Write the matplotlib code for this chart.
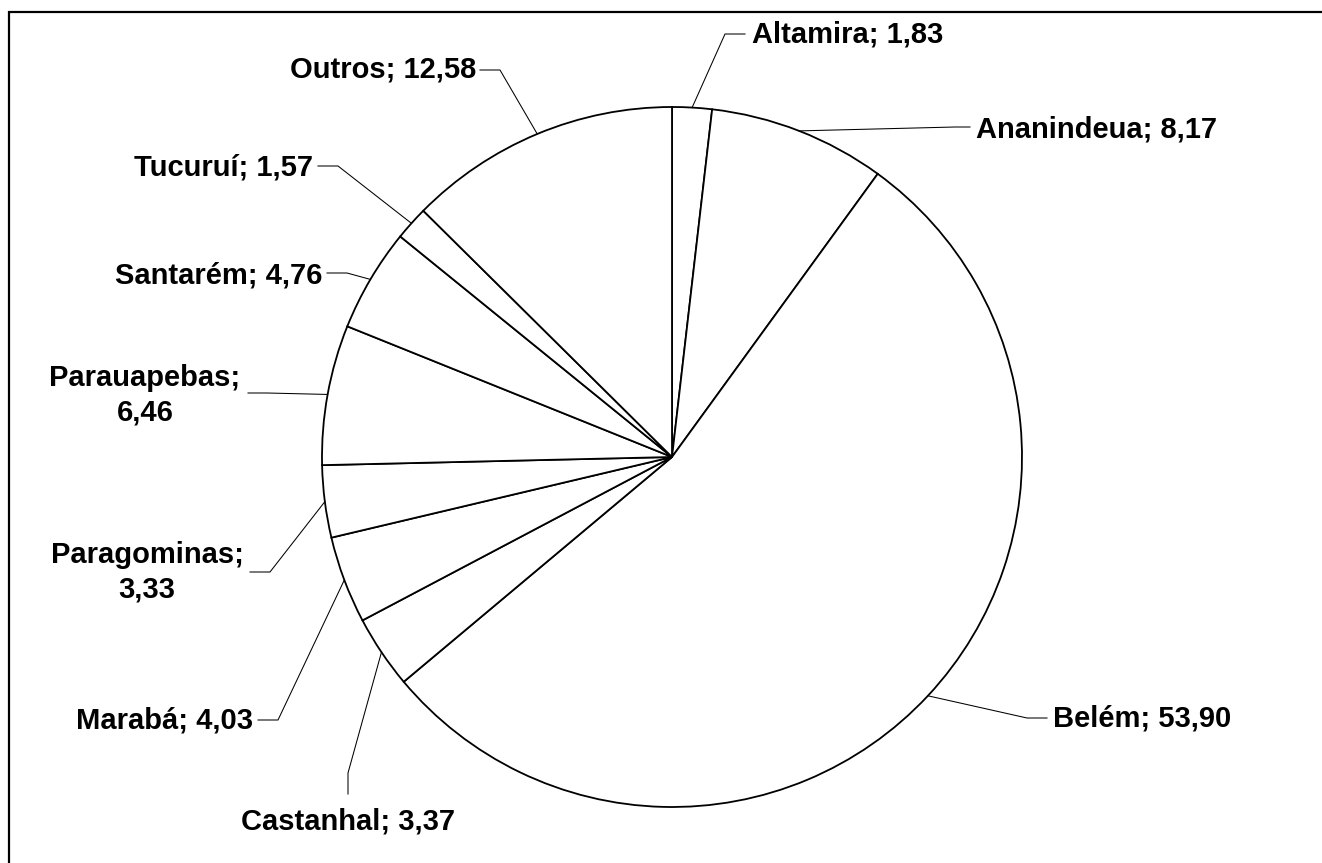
"""
Pie chart of share by municipality (Pará), white wedges with outside labels
and leader lines. Saves out.png.
"""

import matplotlib.pyplot as plt
import numpy as np
from matplotlib.patches import Rectangle

W, H = 1322, 863

municipios = ["Altamira", "Ananindeua", "Belém", "Castanhal", "Marabá",
              "Paragominas", "Parauapebas", "Santarém", "Tucuruí", "Outros"]
valores = [1.83, 8.17, 53.90, 3.37, 4.03, 3.33, 6.46, 4.76, 1.57, 12.58]
# labels that wrap onto two lines
quebra = {"Paragominas", "Parauapebas"}

# layout of the labels, in image pixels (x right, y down):
# elbow of the leader line, end of the leader line, text anchor, alignment
LAYOUT = {
    "Altamira":    ((725, 34), (745, 34), (752, 35), "left"),
    "Ananindeua":  ((955, 127), (970, 127), (976, 130), "left"),
    "Belém":       ((1027, 718), (1047, 718), (1053, 718), "left"),
    "Castanhal":   ((348, 773), (348, 794), (348, 821), "center"),
    "Marabá":      ((278, 720), (258, 720), (253, 720), "right"),
    "Paragominas": ((270, 572), (250, 572), (147, 572), "center"),
    "Parauapebas": ((267, 393), (248, 393), (145, 395), "center"),
    "Santarém":    ((347, 273), (327, 273), (322, 275), "right"),
    "Tucuruí":     ((338, 166), (318, 166), (313, 167), "right"),
    "Outros":      ((500, 70), (480, 70), (476, 70), "right"),
}

CENTER = (672, 457)
RADIUS = 350


def up(p):
    # image pixel coords -> data coords (y up)
    return p[0], H - p[1]


def rotulo(nome, valor):
    sep = ";\n" if nome in quebra else "; "
    return f"{nome}{sep}{valor:.2f}".replace(".", ",")


def main():
    plt.rcParams["font.family"] = ["Liberation Sans", "DejaVu Sans"]

    fig = plt.figure(figsize=(W / 100, H / 100), dpi=100)
    ax = fig.add_axes([0, 0, 1, 1])
    ax.set_xlim(0, W)
    ax.set_ylim(0, H)
    ax.set_aspect("equal")
    ax.axis("off")

    wedges, _ = ax.pie(
        valores, startangle=90, counterclock=False,
        center=up(CENTER), radius=RADIUS, frame=True,
        wedgeprops=dict(facecolor="white", edgecolor="black", linewidth=1.3),
    )
    ax.set_xlim(0, W)
    ax.set_ylim(0, H)
    ax.axis("off")

    for w, nome, valor in zip(wedges, municipios, valores):
        ang = np.deg2rad((w.theta1 + w.theta2) / 2)
        cx, cy = w.center
        x0, y0 = cx + w.r * np.cos(ang), cy + w.r * np.sin(ang)
        elbow, end, txt, ha = LAYOUT[nome]
        ex, ey = up(elbow)
        fx, fy = up(end)
        ax.plot([x0, ex, fx], [y0, ey, fy], color="black", lw=0.75,
                solid_joinstyle="miter")
        tx, ty = up(txt)
        ax.text(tx, ty, rotulo(nome, valor), ha=ha, va="center",
                multialignment="center", linespacing=1.3,
                fontsize=21, fontweight="bold", color="black")

    # chart area border (only top and left edges fall inside the image)
    ax.add_patch(Rectangle((9, -40), W + 100, H - 12 + 40, fill=False,
                           edgecolor="black", linewidth=1.6))

    fig.savefig("out.png", dpi=100, facecolor="white")


if __name__ == "__main__":
    main()
